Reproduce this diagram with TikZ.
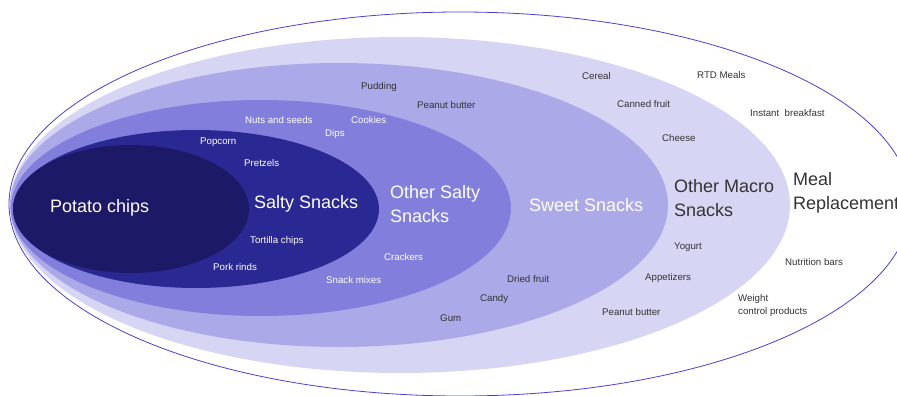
\documentclass[tikz,border=0pt]{standalone}
\usepackage{fontspec}
\setmainfont{Liberation Sans}

\definecolor{rim}{HTML}{4D3FCF}
\definecolor{macro}{HTML}{D7D5F4}
\definecolor{sweet}{HTML}{ACA9E9}
\definecolor{osalty}{HTML}{827EDC}
\definecolor{salty}{HTML}{2A2892}
\definecolor{pchip}{HTML}{1C1966}
\definecolor{ink}{HTML}{333333}

\begin{document}
\begin{tikzpicture}[x=1pt, y=-1pt,
  group/.style={anchor=west, align=left, inner sep=0pt, font=\fontsize{18}{24}\selectfont},
  item/.style={anchor=west, align=left, inner sep=0pt, font=\fontsize{9.7}{13}\selectfont},
  lite/.style={text=white}, dark/.style={text=ink}]
\useasboundingbox (0,0) rectangle (897,396);

% 各层椭圆
\draw[rim, line width=0.8pt, fill=white] (460,204) ellipse [x radius=451pt, y radius=192pt];
\fill[macro] (400,205) ellipse [x radius=390pt, y radius=168pt];
\fill[sweet] (339,205) ellipse [x radius=329pt, y radius=142pt];
\fill[osalty] (261,208) ellipse [x radius=250pt, y radius=108pt];
\fill[salty] (196,209) ellipse [x radius=183pt, y radius=79pt];
\fill[pchip] (131,209) ellipse [x radius=118pt, y radius=64pt];

% 类别名称
\node[group, lite] (pchips) at (50,208) {Potato chips};
\node[group, lite] (saltysn) at (254,204) {Salty Snacks};
\node[group, lite] (osaltysn) at (390,204) {Other Salty\\Snacks};
\node[group, lite] (sweetsn) at (529,205) {Sweet Snacks};
\node[group, dark] (omacrosn) at (674,198) {Other Macro\\Snacks};
\node[group, dark] (mealrep) at (793,193) {Meal\\Replacement};

% 各类食品
\node[item, lite] (popcorn) at (200,142) {Popcorn};
\node[item, lite] (pretzels) at (244,163) {Pretzels};
\node[item, lite] (tortilla) at (250,241) {Tortilla chips};
\node[item, lite] (porkrinds) at (213,267) {Pork rinds};
\node[item, lite] (nuts) at (245,120) {Nuts and seeds};
\node[item, lite] (dips) at (325,134) {Dips};
\node[item, lite] (cookies) at (351,120) {Cookies};
\node[item, lite] (crackers) at (384,257) {Crackers};
\node[item, lite] (snackmix) at (326,280) {Snack mixes};
\node[item, dark] (pudding) at (361,87) {Pudding};
\node[item, dark] (pbutter) at (417,105) {Peanut butter};
\node[item, dark] (dried) at (507,279) {Dried fruit};
\node[item, dark] (candy) at (480,299) {Candy};
\node[item, dark] (gum) at (440,318) {Gum};
\node[item, dark] (cereal) at (582,76) {Cereal};
\node[item, dark] (canned) at (617,104) {Canned fruit};
\node[item, dark] (cheese) at (662,138) {Cheese};
\node[item, dark] (yogurt) at (674,247) {Yogurt};
\node[item, dark] (appet) at (645,278) {Appetizers};
\node[item, dark] (pbutterb) at (602,312) {Peanut butter};
\node[item, dark] (rtd) at (697,75) {RTD Meals};
\node[item, dark] (instant) at (750,113) {Instant~ breakfast};
\node[item, dark] (nutrition) at (785,262) {Nutrition bars};
\node[item, dark] (weight) at (738,305.5) {Weight\\control products};
\end{tikzpicture}
\end{document}
